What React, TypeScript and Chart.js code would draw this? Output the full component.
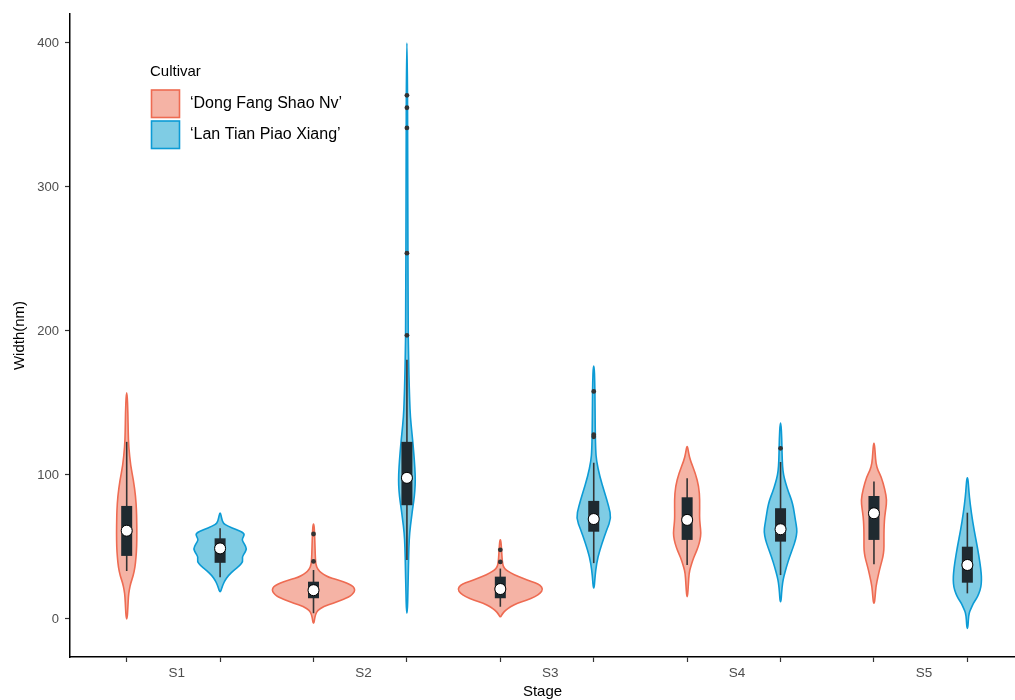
import React, { useEffect, useRef } from 'react';
import { Chart, registerables } from 'chart.js';
Chart.register(...registerables);

const FONT = "'Liberation Sans', Arial, sans-serif";

const stages = ['S1', 'S2', 'S3', 'S4', 'S5'];
const cultivars = ['\u2018Dong Fang Shao Nv\u2019', '\u2018Lan Tian Piao Xiang\u2019'];
const yTickValues = [0, 100, 200, 300, 400];

// Violin outlines: [value, half-width in x-axis units]
const violinS1Dong: [number, number][] = [[157, 0.005], [143, 0.013], [130, 0.016], [120, 0.021], [106, 0.043], [96.5, 0.072], [85, 0.096], [75, 0.105], [69, 0.107], [60, 0.109], [50, 0.107], [43, 0.1], [36, 0.089], [30, 0.07], [25, 0.043], [20, 0.027], [15.5, 0.018], [8, 0.013], [0, 0.005]];
const violinS1Lan: [number, number][] = [[73.5, 0.005], [70, 0.016], [66.5, 0.032], [64.5, 0.08], [62, 0.18], [59.5, 0.262], [57, 0.25], [55, 0.232], [52, 0.26], [49, 0.285], [46, 0.265], [43, 0.235], [40, 0.245], [37, 0.21], [34, 0.15], [30, 0.086], [27, 0.054], [24, 0.032], [21, 0.016], [19, 0.005]];
const violinS2Dong: [number, number][] = [[66, 0.005], [60, 0.011], [50, 0.016], [40, 0.021], [36, 0.032], [33, 0.064], [31, 0.107], [29, 0.161], [27.5, 0.236], [26, 0.321], [24, 0.385], [22.5, 0.428], [20, 0.444], [18, 0.428], [16, 0.396], [14.5, 0.353], [13, 0.289], [11, 0.214], [8.6, 0.107], [6, 0.043], [3, 0.021], [0, 0.011], [-3, 0.005]];
const violinS2Lan: [number, number][] = [[400, 0.005], [300, 0.009], [200, 0.013], [190, 0.016], [170, 0.021], [152, 0.029], [140, 0.037], [129, 0.054], [120, 0.067], [110, 0.08], [100, 0.089], [93, 0.089], [85, 0.08], [78, 0.064], [70, 0.048], [60, 0.029], [50, 0.021], [36, 0.016], [20, 0.011], [4, 0.005]];
const violinS3Dong: [number, number][] = [[55, 0.005], [50, 0.011], [45, 0.016], [40, 0.021], [36, 0.032], [34, 0.064], [32, 0.107], [29.5, 0.193], [27, 0.289], [25, 0.375], [23.5, 0.428], [20.5, 0.457], [18, 0.428], [15.5, 0.375], [13, 0.278], [11, 0.182], [8.5, 0.107], [6, 0.054], [3.5, 0.021], [1.5, 0.005]];
const violinS3Lan: [number, number][] = [[175.7, 0.005], [165, 0.011], [150, 0.014], [130, 0.016], [117, 0.021], [110, 0.029], [99, 0.064], [87.5, 0.118], [78, 0.161], [70, 0.188], [62, 0.139], [52.6, 0.089], [43, 0.043], [34, 0.021], [27, 0.011], [21.5, 0.005]];
const violinS4Dong: [number, number][] = [[119.7, 0.005], [115, 0.016], [110, 0.035], [101, 0.089], [92, 0.125], [82.6, 0.136], [71, 0.132], [65, 0.139], [59.7, 0.148], [55, 0.139], [50, 0.118], [45, 0.086], [41, 0.061], [36, 0.037], [32, 0.021], [24, 0.013], [15.5, 0.005]];
const violinS4Lan: [number, number][] = [[136, 0.005], [125, 0.013], [115, 0.016], [105.8, 0.021], [100, 0.032], [94.4, 0.054], [88, 0.086], [82.6, 0.118], [77, 0.139], [71, 0.153], [65, 0.169], [60.6, 0.177], [55, 0.161], [50, 0.136], [43, 0.096], [36.3, 0.064], [30, 0.037], [25, 0.021], [18, 0.011], [12, 0.005]];
const violinS5Dong: [number, number][] = [[122, 0.005], [115, 0.013], [108, 0.021], [103, 0.043], [98.8, 0.078], [89.6, 0.118], [82.6, 0.137], [77, 0.128], [71, 0.115], [65, 0.109], [59.5, 0.107], [53, 0.107], [48, 0.107], [43, 0.096], [38.7, 0.078], [34, 0.059], [29.4, 0.043], [22.4, 0.021], [16, 0.013], [10.9, 0.005]];
const violinS5Lan: [number, number][] = [[98, 0.005], [92, 0.013], [85, 0.021], [73.4, 0.043], [61.8, 0.072], [50, 0.107], [38.7, 0.136], [32, 0.148], [27, 0.152], [22, 0.145], [17.8, 0.125], [14, 0.096], [10.9, 0.064], [7, 0.037], [4, 0.018], [0, 0.011], [-6.5, 0.005]];

const dongViolins = [violinS1Dong, violinS2Dong, violinS3Dong, violinS4Dong, violinS5Dong];
const lanViolins = [violinS1Lan, violinS2Lan, violinS3Lan, violinS4Lan, violinS5Lan];

// Box plot statistics per stage
const dongQ1 = [43.8, 14.4, 14.4, 54.9, 54.9];
const dongQ3 = [78.5, 25.9, 29.4, 84.5, 85.4];
const dongLow = [33.3, 4, 8.5, 37.5, 38];
const dongHigh = [123, 34, 35, 97.7, 95.4];
const dongMean = [61.3, 20, 20.8, 68.8, 73.4];
const dongOutliers = [[], [59, 40], [48, 39.6], [], []];

const lanQ1 = [39, 79, 60.6, 53.7, 25.2];
const lanQ3 = [56, 123, 82, 76.9, 50.2];
const lanLow = [29, 41, 38.8, 30.5, 17.8];
const lanHigh = [63, 180, 108.5, 109, 73.8];
const lanMean = [49, 98, 69.4, 62.3, 37.5];
const lanOutliers = [[], [363.6, 355, 341, 254, 197], [158, 128, 126.5], [118.5], []];

const colors = {
  dongFill: '#F5B3A5',
  dongLine: '#EE6B52',
  lanFill: '#7FCCE4',
  lanLine: '#0C9BD5',
  box: '#1F2A30',
  whisker: '#333333',
};

const pos = (k: number, j: number) => 1 + 2 * k + j;
const labelOffset = 0.535;

const xTickValues: number[] = [];
stages.forEach((_, k) => {
  xTickValues.push(pos(k, 0), pos(k, 0) + labelOffset, pos(k, 1));
});

const violinSets = [
  ...dongViolins.map((profile, k) => ({ pos: pos(k, 0), profile, fill: colors.dongFill, line: colors.dongLine })),
  ...lanViolins.map((profile, k) => ({ pos: pos(k, 1), profile, fill: colors.lanFill, line: colors.lanLine })),
];

const violinPlugin = {
  id: 'violins',
  beforeDatasetsDraw(chart: any) {
    const { ctx, scales } = chart;
    const x = scales.x;
    const y = scales.y;
    ctx.save();
    violinSets.forEach((v) => {
      const cx = x.getPixelForValue(v.pos);
      const right = v.profile.map(([val, w]) => [x.getPixelForValue(v.pos + w), y.getPixelForValue(val)]);
      const left = v.profile.map(([val, w]) => [2 * cx - x.getPixelForValue(v.pos + w), y.getPixelForValue(val)]).reverse();
      const pts = [...right, ...left];
      const n = pts.length;
      const mid = (a: number[], b: number[]) => [(a[0] + b[0]) / 2, (a[1] + b[1]) / 2];
      ctx.beginPath();
      const start = mid(pts[n - 1], pts[0]);
      ctx.moveTo(start[0], start[1]);
      for (let i = 0; i < n; i++) {
        const p = pts[i];
        const m = mid(p, pts[(i + 1) % n]);
        ctx.quadraticCurveTo(p[0], p[1], m[0], m[1]);
      }
      ctx.closePath();
      ctx.fillStyle = v.fill;
      ctx.fill();
      ctx.lineWidth = 1.6;
      ctx.lineJoin = 'round';
      ctx.strokeStyle = v.line;
      ctx.stroke();
    });
    ctx.restore();
  },
};

const legendPlugin = {
  id: 'ggLegend',
  afterDraw(chart: any) {
    const { ctx } = chart;
    ctx.save();
    ctx.textBaseline = 'middle';
    ctx.textAlign = 'left';
    ctx.fillStyle = '#000';
    ctx.font = `15px ${FONT}`;
    ctx.fillText('Cultivar', 150, 71.5);
    const keys = [
      { fill: colors.dongFill, line: colors.dongLine, y: 90 },
      { fill: colors.lanFill, line: colors.lanLine, y: 121 },
    ];
    keys.forEach((k, i) => {
      ctx.fillStyle = k.fill;
      ctx.fillRect(151.5, k.y, 28, 27.5);
      ctx.strokeStyle = k.line;
      ctx.lineWidth = 1.6;
      ctx.strokeRect(151.5, k.y, 28, 27.5);
      ctx.fillStyle = '#000';
      ctx.font = `16px ${FONT}`;
      ctx.fillText(cultivars[i], 190, k.y + 14);
    });
    ctx.restore();
  },
};

export default function App() {
  const ref = useRef<HTMLCanvasElement>(null);
  useEffect(() => {
    document.body.style.margin = '0';
    const cats = stages.map((_, k) => k);
    const datasets: any[] = [
      {
        type: 'scatter',
        label: 'mean',
        order: 0,
        data: [
          ...cats.map((k) => ({ x: pos(k, 0), y: dongMean[k] })),
          ...cats.map((k) => ({ x: pos(k, 1), y: lanMean[k] })),
        ],
        pointRadius: 5.5,
        pointBackgroundColor: '#ffffff',
        pointBorderColor: '#000000',
        pointBorderWidth: 1,
        showLine: false,
      },
      {
        type: 'scatter',
        label: 'outliers',
        order: 1,
        data: [
          ...cats.flatMap((k) => dongOutliers[k].map((v) => ({ x: pos(k, 0), y: v }))),
          ...cats.flatMap((k) => lanOutliers[k].map((v) => ({ x: pos(k, 1), y: v }))),
        ],
        pointRadius: 2.4,
        pointBackgroundColor: '#333333',
        pointBorderWidth: 0,
        showLine: false,
      },
      {
        type: 'bar',
        label: 'box',
        order: 2,
        grouped: false,
        maxBarThickness: 11,
        backgroundColor: colors.box,
        borderWidth: 0,
        data: [
          ...cats.map((k) => ({ x: pos(k, 0), y: [dongQ1[k], dongQ3[k]] })),
          ...cats.map((k) => ({ x: pos(k, 1), y: [lanQ1[k], lanQ3[k]] })),
        ],
      },
      {
        type: 'bar',
        label: 'whisker',
        order: 3,
        grouped: false,
        maxBarThickness: 1.6,
        backgroundColor: colors.whisker,
        borderWidth: 0,
        data: [
          ...cats.map((k) => ({ x: pos(k, 0), y: [dongLow[k], dongHigh[k]] })),
          ...cats.map((k) => ({ x: pos(k, 1), y: [lanLow[k], lanHigh[k]] })),
        ],
      },
    ];

    const chart = new Chart(ref.current as HTMLCanvasElement, {
      type: 'scatter',
      data: { datasets },
      options: {
        animation: false,
        responsive: false,
        devicePixelRatio: 1,
        events: [],
        layout: { autoPadding: false, padding: { top: 14, left: 0, right: 0, bottom: 0 } },
        plugins: { legend: { display: false }, tooltip: { enabled: false } },
        scales: {
          x: {
            type: 'linear',
            min: 0.393,
            max: 10.51,
            offset: false,
            afterBuildTicks: (s: any) => {
              s.ticks = xTickValues.map((v) => ({ value: v }));
            },
            afterFit: (s: any) => {
              s.height = 43;
            },
            ticks: {
              autoSkip: false,
              maxRotation: 0,
              minRotation: 0,
              padding: 3,
              color: '#4D4D4D',
              font: { family: FONT, size: 13.5 },
              callback: (value: any) => {
                const k = Math.round((Number(value) - 1 - labelOffset) / 2);
                return Math.abs(pos(k, 0) + labelOffset - Number(value)) < 1e-6 ? stages[k] : '';
              },
            },
            grid: {
              display: true,
              offset: false,
              drawOnChartArea: false,
              drawTicks: true,
              tickLength: 5,
              tickWidth: 1.2,
              tickColor: (c: any) => {
                const v = c.tick ? c.tick.value : 0;
                return Math.abs(v - Math.round(v)) < 1e-6 ? '#333333' : 'rgba(0,0,0,0)';
              },
            },
            border: { display: true, color: '#000000', width: 1.5 },
            title: {
              display: true,
              text: 'Stage',
              color: '#000000',
              font: { family: FONT, size: 15, lineHeight: 1.07 },
              padding: { top: 0, bottom: 0 },
            },
          },
          y: {
            type: 'linear',
            min: -26.4,
            max: 420.1,
            afterBuildTicks: (s: any) => {
              s.ticks = yTickValues.map((v) => ({ value: v }));
            },
            afterFit: (s: any) => {
              s.width = 70;
            },
            ticks: {
              padding: 6,
              color: '#4D4D4D',
              font: { family: FONT, size: 13 },
            },
            grid: {
              display: true,
              offset: false,
              drawOnChartArea: false,
              drawTicks: true,
              tickLength: 5,
              tickWidth: 1.2,
              tickColor: '#333333',
            },
            border: { display: true, color: '#000000', width: 1.5 },
            title: {
              display: true,
              text: 'Width(nm)',
              color: '#000000',
              font: { family: FONT, size: 15, lineHeight: 1.2 },
              padding: { top: 11, bottom: 0 },
            },
          },
        },
      } as any,
      plugins: [violinPlugin, legendPlugin],
    });
    return () => chart.destroy();
  }, []);
  return (
    <div style={{ width: 1015, height: 700 }}>
      <canvas ref={ref} width={1015} height={700} style={{ display: 'block' }} />
    </div>
  );
}
